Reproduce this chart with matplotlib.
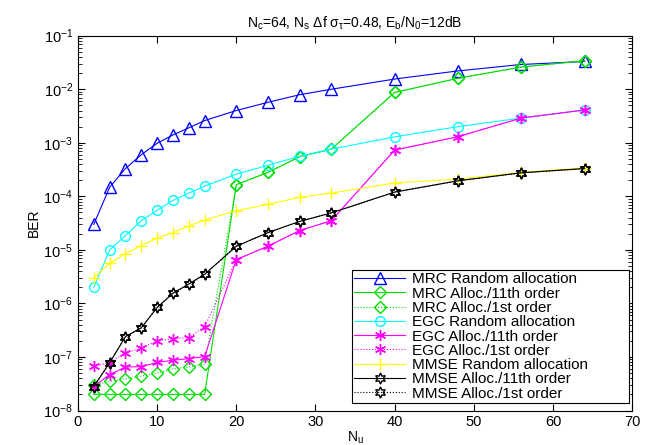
import matplotlib
matplotlib.use("Agg")
import matplotlib.pyplot as plt

plt.rcParams['font.family'] = ['Liberation Sans', 'DejaVu Sans']
plt.rcParams['mathtext.fontset'] = 'custom'
plt.rcParams['mathtext.rm'] = 'Liberation Sans'
plt.rcParams['mathtext.it'] = 'Liberation Sans'

# number of users
nu = [2, 4, 6, 8, 10, 12, 14, 16, 20, 24, 28, 32, 40, 48, 56, 64]

# BER values
mrc_random = [3.0e-5, 1.48e-4, 3.3e-4, 6.0e-4, 9.8e-4, 1.4e-3, 1.9e-3, 2.6e-3,
              4.0e-3, 5.7e-3, 7.9e-3, 1.0e-2, 1.55e-2, 2.2e-2, 2.9e-2, 3.3e-2]
mrc_11th = [2e-8, 2e-8, 2e-8, 2e-8, 2e-8, 2e-8, 2e-8, 2e-8,
            1.65e-4, 2.8e-4, 5.5e-4, 7.6e-4, 8.7e-3, 1.6e-2, 2.6e-2, 3.4e-2]
mrc_1st = [3.0e-8, 3.5e-8, 3.9e-8, 4.4e-8, 5.0e-8, 6.0e-8, 6.5e-8, 7.4e-8,
           1.65e-4, 2.8e-4, 5.5e-4, 7.6e-4, 8.7e-3, 1.6e-2, 2.6e-2, 3.4e-2]
egc_random = [2.0e-6, 1.0e-5, 1.85e-5, 3.5e-5, 5.5e-5, 8.4e-5, 1.15e-4, 1.55e-4,
              2.6e-4, 3.8e-4, 5.6e-4, 7.6e-4, 1.29e-3, 2.0e-3, 2.9e-3, 4.1e-3]
egc_11th = [2.8e-8, 4.7e-8, 6.5e-8, 6.6e-8, 7.9e-8, 8.7e-8, 9.3e-8, 1.02e-7,
            6.6e-6, 1.17e-5, 2.3e-5, 3.5e-5, 7.3e-4, 1.3e-3, 2.9e-3, 4.1e-3]
egc_1st = [6.8e-8, 7.8e-8, 1.2e-7, 1.45e-7, 2.0e-7, 2.2e-7, 2.3e-7, 3.7e-7,
           6.6e-6, 1.17e-5, 2.3e-5, 3.5e-5, 7.3e-4, 1.3e-3, 2.9e-3, 4.1e-3]
mmse_random = [3.0e-6, 5.6e-6, 8.5e-6, 1.2e-5, 1.67e-5, 2.1e-5, 2.8e-5, 3.6e-5,
               5.4e-5, 7.1e-5, 9.6e-5, 1.15e-4, 1.78e-4, 2.1e-4, 2.8e-4, 3.4e-4]
mmse_11th = [2.8e-8, 7.8e-8, 2.4e-7, 3.5e-7, 8.4e-7, 1.55e-6, 2.3e-6, 3.5e-6,
             1.17e-5, 2.1e-5, 3.4e-5, 4.9e-5, 1.2e-4, 1.95e-4, 2.75e-4, 3.3e-4]
mmse_1st = list(mmse_11th)

labels = ['MRC Random allocation', 'MRC Alloc./11th order', 'MRC Alloc./1st order',
          'EGC Random allocation', 'EGC Alloc./11th order', 'EGC Alloc./1st order',
          'MMSE Random allocation', 'MMSE Alloc./11th order', 'MMSE Alloc./1st order']

fig = plt.figure(figsize=(6.51, 4.45), dpi=100)
ax = fig.add_axes([0.1198, 0.0775, 0.8512, 0.8423])

star6 = (6, 1, 0)
aster = (6, 2, 0)
series = [
    (mrc_random, '#0000ff', '-', '^', 8),
    (mrc_11th, '#00dd00', '-', 'D', 6),
    (mrc_1st, '#00dd00', ':', 'D', 6),
    (egc_random, '#00ffff', '-', 'o', 7),
    (egc_11th, '#ff00ff', '-', aster, 8),
    (egc_1st, '#ff00ff', ':', aster, 8),
    (mmse_random, '#ffff00', '-', '+', 9),
    (mmse_11th, '#000000', '-', star6, 8),
    (mmse_1st, '#000000', ':', star6, 8),
]
for (vals, col, ls, mk, ms), lab in zip(series, labels):
    ax.semilogy(nu, vals, color=col, linestyle=ls, marker=mk, markersize=ms,
                markerfacecolor='none', markeredgecolor=col, markeredgewidth=1.0,
                linewidth=0.8, label=lab)

ax.set_xlim(0, 70)
ax.set_ylim(1e-8, 1e-1)
ax.set_xticks(range(0, 71, 10))
ax.tick_params(which='both', direction='in', top=True, right=True, labelsize=10.5)
ax.tick_params(which='major', length=5)
ax.tick_params(which='minor', length=3)
for s in ax.spines.values():
    s.set_linewidth(0.8)

ax.set_xlabel('$\\mathregular{N_u}$', fontsize=10, labelpad=0)
ax.set_ylabel('BER', fontsize=10, labelpad=2)
ax.set_title('$\\mathregular{N_c}$=64, $\\mathregular{N_s}$ $\\Delta$f $\\sigma_\\tau$=0.48, '
             '$\\mathregular{E_b/N_0}$=12dB', fontsize=10, pad=6)

# legend box stretched to the reference width, content left-aligned
leg = ax.legend(loc='lower left', bbox_to_anchor=(0.4946, 0.02, 0.5, 0.421),
                mode='expand', fontsize=11, labelspacing=0.02, handlelength=3.3,
                borderpad=0.15, handletextpad=0.45, fancybox=False, framealpha=1,
                edgecolor='black', borderaxespad=0)
leg.get_frame().set_linewidth(0.8)

fig.savefig('out.png', dpi=100)
